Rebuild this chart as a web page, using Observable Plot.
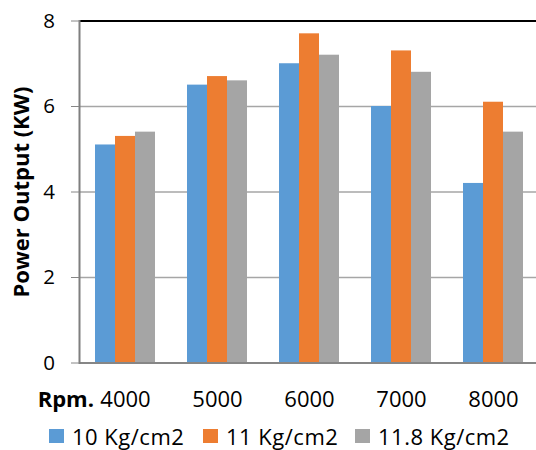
<!DOCTYPE html>
<html><head><meta charset="utf-8">
<script src="https://cdn.jsdelivr.net/npm/d3@7"></script>
<script src="https://cdn.jsdelivr.net/npm/@observablehq/plot@0.6"></script>
<style>
body{margin:0;background:#fff;font-family:"Open Sans",sans-serif;}
#wrap{position:relative;width:536px;height:450px;overflow:hidden;}
#chart svg{overflow:visible;}
g[aria-label="y-axis label"] text{font-weight:bold;font-size:22px;}
g[aria-label="y-axis tick label"] text{font-size:20.5px;letter-spacing:0.5px;}
g[aria-label="fx-axis tick label"] text{font-size:22px;}
#rpm{position:absolute;left:0;top:386.5px;width:94px;text-align:right;font-weight:bold;font-size:22px;line-height:22px;color:#000;}
.leg{position:absolute;top:425px;height:22px;display:flex;align-items:center;font-size:22px;line-height:22px;letter-spacing:0.5px;color:#000;}
.leg span.sw{display:inline-block;width:15px;height:14px;margin-right:8px;}
</style></head><body>
<div id="wrap"><div id="chart"></div><div id="rpm">Rpm.</div><div id="legend"></div></div>
<script>
const rpms = ["4000", "5000", "6000", "7000", "8000"];
const seriesNames = ["10 Kg/cm2", "11 Kg/cm2", "11.8 Kg/cm2"];
const s10 = [5.1, 6.5, 7.0, 6.0, 4.2];
const s11 = [5.3, 6.7, 7.7, 7.3, 6.1];
const s118 = [5.4, 6.6, 7.2, 6.8, 5.4];
const yTicks = [0, 2, 4, 6, 8];
const gridTicks = [2, 4, 6];
const colors = ["#5B9BD5", "#ED7D31", "#A5A5A5"];
const legendLeft = [49, 203, 355];

const seriesValues = [s10, s11, s118];
const data = rpms.flatMap((r, i) => seriesValues.map((s, j) => ({rpm: r, series: seriesNames[j], value: s[i]})));

const plot = Plot.plot({
  width: 536, height: 420,
  marginLeft: 79, marginRight: -3, marginTop: 20.5, marginBottom: 57.5,
  style: {fontFamily: "Open Sans", fontSize: "21px", color: "#000", background: "transparent"},
  fx: {domain: rpms, padding: 0, label: null},
  x: {domain: seriesNames, paddingInner: 0, paddingOuter: 0.7625, axis: null},
  y: {domain: [0, 8], axis: null},
  color: {domain: seriesNames, range: colors},
  marks: [
    Plot.ruleY(gridTicks, {stroke: "#a6a6a6", strokeWidth: 1.5}),
    Plot.barY(data, {fx: "rpm", x: "series", y: "value", fill: "series"}),
    Plot.ruleY([8], {stroke: "#000", strokeWidth: 2}),
    Plot.ruleY([0], {stroke: "#868686", strokeWidth: 2}),
    Plot.frame({anchor: "left", facetAnchor: "left", stroke: "#7f7f7f", strokeWidth: 2}),
    Plot.axisY(yTicks, {tickSize: 8, tickPadding: 16, stroke: "#868686", label: "Power Output (KW)", labelAnchor: "center", labelArrow: "none", labelOffset: 66}),
    Plot.axisFx({anchor: "bottom", tickSize: 0, tickPadding: 28, label: null})
  ]
});
document.getElementById("chart").appendChild(plot);

const leg = document.getElementById("legend");
seriesNames.forEach((name, i) => {
  const item = document.createElement("div");
  item.className = "leg";
  item.style.left = legendLeft[i] + "px";
  const sw = document.createElement("span");
  sw.className = "sw";
  sw.style.background = colors[i];
  item.appendChild(sw);
  item.appendChild(document.createTextNode(name));
  leg.appendChild(item);
});
</script>
</body></html>
